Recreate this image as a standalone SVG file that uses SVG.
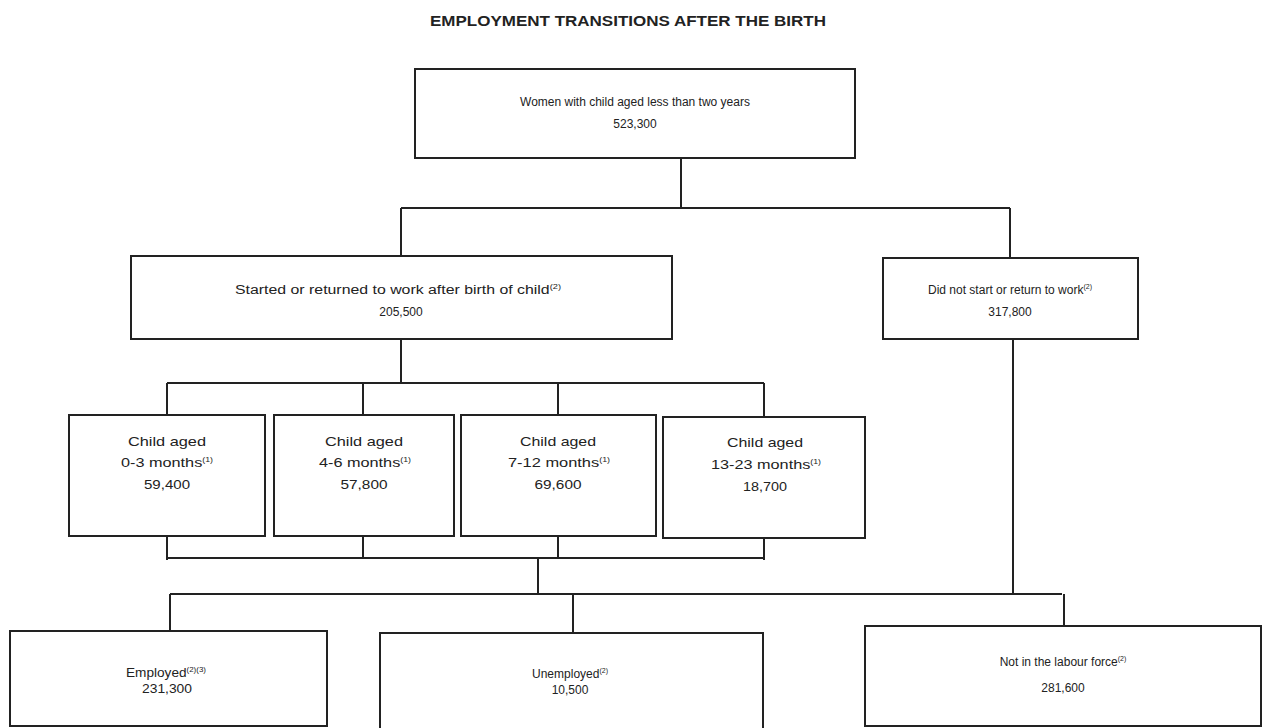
<svg xmlns="http://www.w3.org/2000/svg" width="1267" height="728" viewBox="0 0 1267 728">
<style>
.box{fill:#fff;stroke:#222;stroke-width:2}
.ln{fill:none;stroke:#222;stroke-width:2}
.t{font-family:"Liberation Sans",Arial,sans-serif;font-size:12px;fill:#222;text-anchor:middle}
.c{font-size:13px}
.title{font-family:"Liberation Sans",Arial,sans-serif;font-size:14px;font-weight:bold;fill:#222;text-anchor:middle}
.sup{font-size:7px}
</style>
<rect width="1267" height="728" fill="#fff"/>
<text class="title" x="628" y="26" textLength="396" lengthAdjust="spacingAndGlyphs">EMPLOYMENT TRANSITIONS AFTER THE BIRTH</text>
<g id="connectors">
<path class="ln" d="M681,158V208M401,208H1010M401,208V256M1010,208V258"/>
<path class="ln" d="M401,339V383M167,383H764M167,383V415M363,383V415M558,383V415M764,383V417"/>
<path class="ln" d="M167,536V560M363,536V558M558,536V558M764,538V560M167,558H764M538,558V594"/>
<path class="ln" d="M1013,339V594M170,594H1062M170,594V631M573,594V633M1064,594V626"/>
</g>
<g id="n-women"><rect class="box" x="415" y="69" width="440" height="89"/>
<text class="t" x="635" y="106">Women with child aged less than two years</text>
<text class="t" x="635" y="128">523,300</text></g>
<g id="n-started"><rect class="box" x="131" y="256" width="541" height="83"/>
<text class="t" x="398" y="294" textLength="326" lengthAdjust="spacingAndGlyphs">Started or returned to work after birth of child<tspan class="sup" dy="-5">(2)</tspan></text>
<text class="t" x="401" y="316">205,500</text></g>
<g id="n-notstart"><rect class="box" x="883" y="258" width="255" height="81"/>
<text class="t" x="1010" y="294">Did not start or return to work<tspan class="sup" dy="-5">(2)</tspan></text>
<text class="t" x="1010" y="316">317,800</text></g>
<g id="n-03"><rect class="box" x="69" y="415" width="196" height="121"/>
<text class="t c" x="167" y="446" textLength="78" lengthAdjust="spacingAndGlyphs">Child aged</text>
<text class="t c" x="167" y="467" textLength="92" lengthAdjust="spacingAndGlyphs">0-3 months<tspan class="sup" dy="-5">(1)</tspan></text>
<text class="t c" x="167" y="489" textLength="46" lengthAdjust="spacingAndGlyphs">59,400</text></g>
<g id="n-46"><rect class="box" x="274" y="415" width="180" height="121"/>
<text class="t c" x="364" y="446" textLength="78" lengthAdjust="spacingAndGlyphs">Child aged</text>
<text class="t c" x="365" y="467" textLength="92" lengthAdjust="spacingAndGlyphs">4-6 months<tspan class="sup" dy="-5">(1)</tspan></text>
<text class="t c" x="364" y="489" textLength="47" lengthAdjust="spacingAndGlyphs">57,800</text></g>
<g id="n-712"><rect class="box" x="461" y="415" width="195" height="121"/>
<text class="t c" x="558" y="446" textLength="76" lengthAdjust="spacingAndGlyphs">Child aged</text>
<text class="t c" x="559" y="467" textLength="102" lengthAdjust="spacingAndGlyphs">7-12 months<tspan class="sup" dy="-5">(1)</tspan></text>
<text class="t c" x="558" y="489" textLength="47" lengthAdjust="spacingAndGlyphs">69,600</text></g>
<g id="n-1323"><rect class="box" x="663" y="417" width="202" height="121"/>
<text class="t c" x="765" y="447" textLength="76" lengthAdjust="spacingAndGlyphs">Child aged</text>
<text class="t c" x="766" y="469" textLength="110" lengthAdjust="spacingAndGlyphs">13-23 months<tspan class="sup" dy="-5">(1)</tspan></text>
<text class="t c" x="765" y="491" textLength="44" lengthAdjust="spacingAndGlyphs">18,700</text></g>
<g id="n-employed"><rect class="box" x="10" y="631" width="317" height="95"/>
<text class="t" x="166" y="677" textLength="80" lengthAdjust="spacingAndGlyphs">Employed<tspan class="sup" dy="-5">(2)(3)</tspan></text>
<text class="t" x="167" y="693" textLength="50" lengthAdjust="spacingAndGlyphs">231,300</text></g>
<g id="n-unemployed"><rect class="box" x="380" y="633" width="383" height="96"/>
<text class="t" x="570" y="678">Unemployed<tspan class="sup" dy="-5">(2)</tspan></text>
<text class="t" x="570" y="694">10,500</text></g>
<g id="n-nilf"><rect class="box" x="865" y="626" width="396" height="100"/>
<text class="t" x="1063" y="666">Not in the labour force<tspan class="sup" dy="-5">(2)</tspan></text>
<text class="t" x="1063" y="692">281,600</text></g>
</svg>
